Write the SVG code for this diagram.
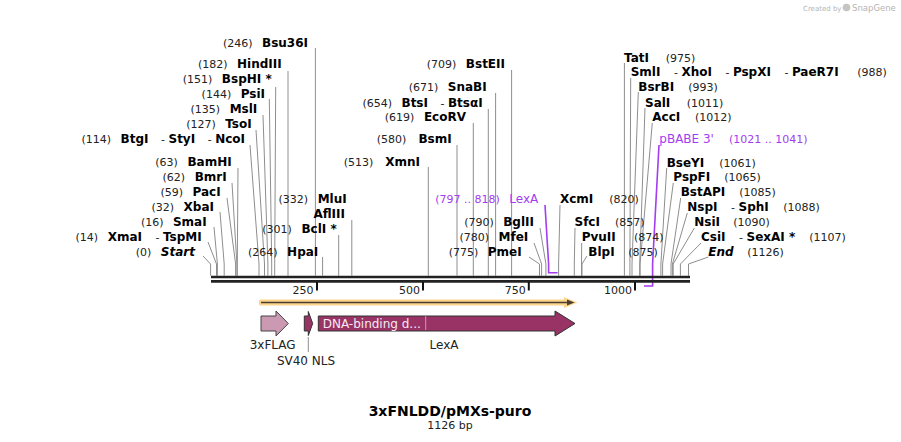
<svg xmlns="http://www.w3.org/2000/svg" width="901" height="442" viewBox="0 0 901 442">
<style>
text{font-family:"DejaVu Sans",Verdana,sans-serif}
.e{font-weight:bold;font-size:12px;fill:#000}
.n{font-weight:normal;font-size:11px;fill:#222}
.i{font-style:italic}
.p{font-size:12px;fill:#a43cf0}
.pn{font-size:11px;fill:#a43cf0}
.tk{font-size:11px;fill:#222}
.site{fill:none;stroke:#8e8e8e;stroke-width:1}
.pur{fill:none;stroke:#a43cf0;stroke-width:1.6}
.bb{stroke:#222;stroke-width:2.6}
.tick{stroke:#111;stroke-width:2}
.flab{font-size:12px;fill:#222}
</style>

<g id="logo">
<text x="803" y="10.5" style="font-size:7px;fill:#b4b4b4">Created by</text>
<circle cx="846.5" cy="7.5" r="3.8" fill="#c4c4c4"/>
<text x="852" y="11" style="font-size:8.5px;fill:#b4b4b4">SnapGene</text>
</g>

<g id="connectors">
<path class="site" d="M315.4,48V275.7"/>
<path class="site" d="M288,71V275.7"/>
<path class="site" d="M275.7,87L274.7,264V275.7"/>
<path class="site" d="M269.3,99L271.7,264V275.7"/>
<path class="site" d="M263,115L267.9,264V275.7"/>
<path class="site" d="M256,130L264.5,264V275.7"/>
<path class="site" d="M250,145L259,264V275.7"/>
<path class="site" d="M238,168L237.3,264V275.7"/>
<path class="site" d="M232,183L236.9,264V275.7"/>
<path class="site" d="M227,198L235.6,264V275.7"/>
<path class="site" d="M220,212L224.2,264V275.7"/>
<path class="site" d="M214,227L217.4,264V275.7"/>
<path class="site" d="M208,242L216.5,264V275.7"/>
<path class="site" d="M203,256L210.6,264V275.7"/>
<path class="site" d="M322.6,257V275.7"/>
<path class="site" d="M338.7,235V275.7"/>
<path class="site" d="M351.8,220V275.7"/>
<path class="site" d="M428.3,167V275.7"/>
<path class="site" d="M457,145V275.7"/>
<path class="site" d="M473.3,123V275.7"/>
<path class="site" d="M488.3,109V275.7"/>
<path class="site" d="M495.6,93V275.7"/>
<path class="site" d="M511.6,70V275.7"/>
<path class="site" d="M529,257L539.5,264V275.7"/>
<path class="site" d="M534,243L541.6,264V275.7"/>
<path class="site" d="M540,228L545.9,264V275.7"/>
<path class="site" d="M560,205L558.6,264V275.7"/>
<path class="site" d="M575,228L574.3,264V275.7"/>
<path class="site" d="M581.7,243L581.5,264V275.7"/>
<path class="site" d="M587,256L582,264V275.7"/>
<path class="site" d="M624.4,63V275.7"/>
<path class="site" d="M630.7,78L629.9,264V275.7"/>
<path class="site" d="M638.3,92L632,264V275.7"/>
<path class="site" d="M645,108L639.7,264V275.7"/>
<path class="site" d="M652.3,123L640.1,264V275.7"/>
<path class="site" d="M666.7,168L660.9,264V275.7"/>
<path class="site" d="M673.3,183L662.6,264V275.7"/>
<path class="site" d="M680.7,198L671,264V275.7"/>
<path class="site" d="M687.3,213L672.4,264V275.7"/>
<path class="site" d="M694.3,228L673.2,264V275.7"/>
<path class="site" d="M701,243L680.4,264V275.7"/>
<path class="site" d="M708.3,257L688.5,264V275.7"/>
<path class="pur" d="M545,205L548.6,264V272.7H557.6"/>
<path class="pur" d="M659,145L652.6,264V286H644"/>
<path class="site" d="M308.3,337V352"/>
</g>

<g id="backbone">
<line class="bb" x1="211" y1="277" x2="690" y2="277"/>
<line class="bb" x1="211" y1="281.4" x2="690" y2="281.4"/>
<line class="tick" x1="317" y1="282" x2="317" y2="290.5"/>
<line class="tick" x1="423" y1="282" x2="423" y2="290.5"/>
<line class="tick" x1="528.8" y1="282" x2="528.8" y2="290.5"/>
<line class="tick" x1="635" y1="282" x2="635" y2="290.5"/>
<text class="tk" x="313.5" y="293.5" text-anchor="end">250</text>
<text class="tk" x="420" y="293.5" text-anchor="end">500</text>
<text class="tk" x="525.8" y="293.5" text-anchor="end">750</text>
<text class="tk" x="632" y="293.5" text-anchor="end">1000</text>
</g>

<g id="site-Bsu36I"><text x="308" y="47.4" text-anchor="end"><tspan class="n">(246)</tspan><tspan class="e" dx="9.5">Bsu36I</tspan></text></g>
<g id="site-HindIII"><text x="281.7" y="68.4" text-anchor="end"><tspan class="n">(182)</tspan><tspan class="e" dx="9.5">HindIII</tspan></text></g>
<g id="site-BspHI"><text x="271.7" y="83.4" text-anchor="end"><tspan class="n">(151)</tspan><tspan class="e" dx="9.5">BspHI *</tspan></text></g>
<g id="site-PsiI"><text x="265" y="98.4" text-anchor="end"><tspan class="n">(144)</tspan><tspan class="e" dx="9.5">PsiI</tspan></text></g>
<g id="site-MslI"><text x="257.3" y="113.4" text-anchor="end"><tspan class="n">(135)</tspan><tspan class="e" dx="9.5">MslI</tspan></text></g>
<g id="site-TsoI"><text x="251.7" y="128.4" text-anchor="end"><tspan class="n">(127)</tspan><tspan class="e" dx="9.5">TsoI</tspan></text></g>
<g id="site-BtgI"><text x="245" y="143.4" text-anchor="end"><tspan class="n">(114)</tspan><tspan class="e" dx="9.5">BtgI</tspan><tspan class="n" dx="9"> - </tspan><tspan class="e">StyI</tspan><tspan class="n" dx="9"> - </tspan><tspan class="e">NcoI</tspan></text></g>
<g id="site-BamHI"><text x="231.7" y="166.4" text-anchor="end"><tspan class="n">(63)</tspan><tspan class="e" dx="9.5">BamHI</tspan></text></g>
<g id="site-BmrI"><text x="226.7" y="181.4" text-anchor="end"><tspan class="n">(62)</tspan><tspan class="e" dx="9.5">BmrI</tspan></text></g>
<g id="site-PacI"><text x="220.7" y="196.4" text-anchor="end"><tspan class="n">(59)</tspan><tspan class="e" dx="9.5">PacI</tspan></text></g>
<g id="site-XbaI"><text x="214" y="211.4" text-anchor="end"><tspan class="n">(32)</tspan><tspan class="e" dx="9.5">XbaI</tspan></text></g>
<g id="site-SmaI"><text x="206.7" y="226.4" text-anchor="end"><tspan class="n">(16)</tspan><tspan class="e" dx="9.5">SmaI</tspan></text></g>
<g id="site-XmaI"><text x="201.7" y="241.4" text-anchor="end"><tspan class="n">(14)</tspan><tspan class="e" dx="9.5">XmaI</tspan><tspan class="n" dx="10"> - </tspan><tspan class="e">TspMI</tspan></text></g>
<g id="site-Start"><text x="195" y="256.4" text-anchor="end"><tspan class="n">(0)</tspan><tspan class="e i" dx="9.5">Start</tspan></text></g>

<g id="site-MluI"><text x="346.7" y="203.4" text-anchor="end"><tspan class="n">(332)</tspan><tspan class="e" dx="9.5">MluI</tspan></text></g>
<g id="site-AflIII"><text class="e" x="345" y="218.4" text-anchor="end">AflIII</text></g>
<g id="site-BclI"><text x="336.7" y="233.4" text-anchor="end"><tspan class="n">(301)</tspan><tspan class="e" dx="9.5">BclI *</tspan></text></g>
<g id="site-HpaI"><text x="318.3" y="256.4" text-anchor="end"><tspan class="n">(264)</tspan><tspan class="e" dx="9.5">HpaI</tspan></text></g>
<g id="site-XmnI"><text x="420" y="166.4" text-anchor="end"><tspan class="n">(513)</tspan><tspan class="e" dx="12">XmnI</tspan></text></g>
<g id="site-BsmI"><text x="451.7" y="143.4" text-anchor="end"><tspan class="n">(580)</tspan><tspan class="e" dx="12">BsmI</tspan></text></g>
<g id="site-EcoRV"><text x="466" y="121.4" text-anchor="end"><tspan class="n">(619)</tspan><tspan class="e" dx="9.5">EcoRV</tspan></text></g>
<g id="site-BtsI"><text x="482.7" y="107" text-anchor="end"><tspan class="n">(654)</tspan><tspan class="e" dx="9.5">BtsI</tspan><tspan class="n" dx="9"> - </tspan><tspan class="e">BtsαI</tspan></text></g>
<g id="site-SnaBI"><text x="486.7" y="91.2" text-anchor="end"><tspan class="n">(671)</tspan><tspan class="e" dx="9.5">SnaBI</tspan></text></g>
<g id="site-BstEII"><text x="505" y="68.4" text-anchor="end"><tspan class="n">(709)</tspan><tspan class="e" dx="9.5">BstEII</tspan></text></g>
<g id="feat-LexA-site"><text x="538.3" y="203.4" text-anchor="end"><tspan class="pn">(797 .. 818)</tspan><tspan class="p" dx="9.5">LexA</tspan></text></g>
<g id="site-BglII"><text x="534" y="226.2" text-anchor="end"><tspan class="n">(790)</tspan><tspan class="e" dx="9.5">BglII</tspan></text></g>
<g id="site-MfeI"><text x="528.3" y="241.2" text-anchor="end"><tspan class="n">(780)</tspan><tspan class="e" dx="9.5">MfeI</tspan></text></g>
<g id="site-PmeI"><text x="521.7" y="256.2" text-anchor="end"><tspan class="n">(775)</tspan><tspan class="e" dx="9.5">PmeI</tspan></text></g>

<g id="site-XcmI"><text class="e" x="560" y="203.4">XcmI</text><text class="n" x="609.3" y="203.4">(820)</text></g>
<g id="site-SfcI"><text class="e" x="574.5" y="226.2">SfcI</text><text class="n" x="615" y="226.2">(857)</text></g>
<g id="site-PvuII"><text class="e" x="581.7" y="241.2">PvuII</text><text class="n" x="634" y="241.2">(874)</text></g>
<g id="site-BlpI"><text class="e" x="588.3" y="256.2">BlpI</text><text class="n" x="628.3" y="256.2">(875)</text></g>
<g id="site-TatI"><text class="e" x="624" y="61.7">TatI</text><text class="n" x="665.7" y="61.7">(975)</text></g>
<g id="site-SmlI"><text x="630.7" y="76.2"><tspan class="e">SmlI</tspan><tspan class="n" dx="10"> - </tspan><tspan class="e">XhoI</tspan><tspan class="n" dx="10"> - </tspan><tspan class="e">PspXI</tspan><tspan class="n" dx="10"> - </tspan><tspan class="e">PaeR7I</tspan></text><text class="n" x="857.3" y="76.2">(988)</text></g>
<g id="site-BsrBI"><text class="e" x="638.3" y="91.2">BsrBI</text><text class="n" x="688.3" y="91.2">(993)</text></g>
<g id="site-SalI"><text class="e" x="645" y="106.7">SalI</text><text class="n" x="686.7" y="106.7">(1011)</text></g>
<g id="site-AccI"><text class="e" x="652.3" y="121.2">AccI</text><text class="n" x="695" y="121.2">(1012)</text></g>
<g id="feat-pBABE"><text class="p" x="659.3" y="143.4">pBABE 3'</text><text class="pn" x="729" y="143.4">(1021 .. 1041)</text></g>
<g id="site-BseYI"><text class="e" x="666.7" y="166.7">BseYI</text><text class="n" x="719.3" y="166.7">(1061)</text></g>
<g id="site-PspFI"><text class="e" x="673.3" y="181.2">PspFI</text><text class="n" x="724.3" y="181.2">(1065)</text></g>
<g id="site-BstAPI"><text class="e" x="680.7" y="196.2">BstAPI</text><text class="n" x="739.3" y="196.2">(1085)</text></g>
<g id="site-NspI"><text x="687.3" y="211.2"><tspan class="e">NspI</tspan><tspan class="n" dx="10"> - </tspan><tspan class="e">SphI</tspan></text><text class="n" x="783.3" y="211.2">(1088)</text></g>
<g id="site-NsiI"><text class="e" x="694.3" y="226.2">NsiI</text><text class="n" x="733.3" y="226.2">(1090)</text></g>
<g id="site-CsiI"><text x="701" y="241.2"><tspan class="e">CsiI</tspan><tspan class="n" dx="10"> - </tspan><tspan class="e">SexAI *</tspan></text><text class="n" x="809.3" y="241.2">(1107)</text></g>
<g id="site-End"><text class="e i" x="708.3" y="256.2">End</text><text class="n" x="747.3" y="256.2">(1126)</text></g>

<g id="orf">
<rect x="259" y="299.6" width="312" height="6" rx="1.5" fill="#fdd48c"/>
<polygon points="564,297.2 577.5,302.6 564,308" fill="#fdd48c"/>
<line x1="261" y1="302.6" x2="569" y2="302.6" stroke="#4a3f30" stroke-width="1.5"/>
<polygon points="567,299.6 574.5,302.6 567,305.6" fill="#4a3f30"/>
</g>

<g id="feat-3xFLAG">
<polygon points="261,316 276,316 276,311 288.3,323.5 276,336 276,331 261,331" fill="#cc99b3" stroke="#444" stroke-width="1"/>
<text class="flab" x="272.7" y="348.5" text-anchor="middle">3xFLAG</text>
</g>
<g id="feat-SV40NLS">
<polygon points="304.3,316 308.3,316 308.3,311.5 312.7,323.5 308.3,335.5 308.3,331 304.3,331" fill="#993366" stroke="#333" stroke-width="1"/>
<text class="flab" x="306" y="364.5" text-anchor="middle">SV40 NLS</text>
</g>
<g id="feat-LexA">
<polygon points="318.3,316 555,316 555,311 575,323.5 555,336 555,331 318.3,331" fill="#993366" stroke="#333" stroke-width="1"/>
<line x1="425.7" y1="316.5" x2="425.7" y2="330.5" stroke="#fff" stroke-width="1" stroke-dasharray="1,1"/>
<text x="322.7" y="327.5" style="font-size:12px;fill:#f6eaf0">DNA-binding d...</text>
<text class="flab" x="444" y="348.5" text-anchor="middle">LexA</text>
</g>

<g id="title">
<text x="450" y="416" text-anchor="middle" style="font-size:14px;font-weight:bold;fill:#000">3xFNLDD/pMXs-puro</text>
<text x="450" y="429" text-anchor="middle" style="font-size:11px;fill:#222">1126 bp</text>
</g>
</svg>
